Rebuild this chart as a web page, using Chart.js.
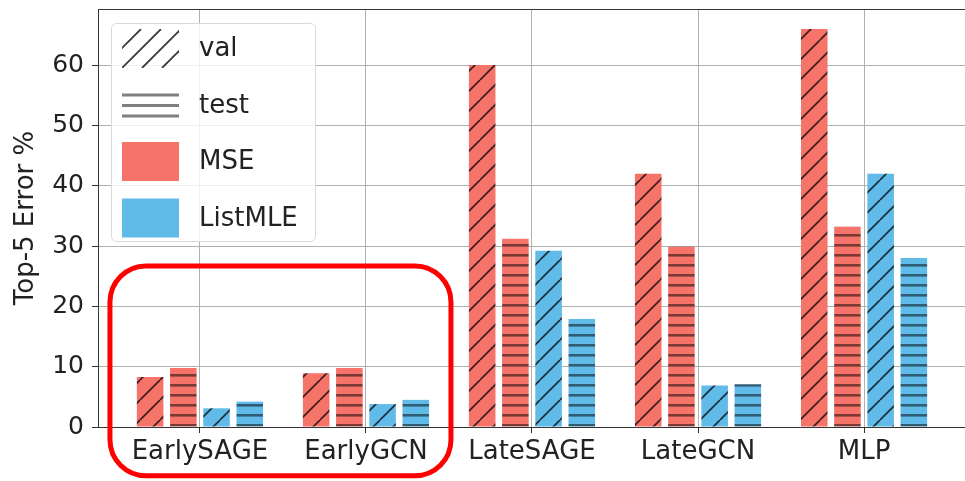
<!DOCTYPE html>
<html>
<head>
<meta charset="utf-8">
<script src="https://cdn.jsdelivr.net/npm/chart.js@4.4.0/dist/chart.umd.min.js"></script>
<style>
  html, body { margin: 0; padding: 0; background: #fff; }
</style>
</head>
<body>
<canvas id="chart" width="965" height="481"></canvas>
<script>
// Top-5 error per model, val / test, MSE vs ListMLE
const categories = ['EarlySAGE', 'EarlyGCN', 'LateSAGE', 'LateGCN', 'MLP'];
const mseVal = [8.3, 8.9, 60.0, 42.0, 66.0];
const mseTest = [9.8, 9.8, 31.2, 29.9, 33.2];
const listmleVal = [3.1, 3.8, 29.2, 6.9, 42.0];
const listmleTest = [4.2, 4.5, 17.9, 7.1, 28.0];
const yTicks = [0, 10, 20, 30, 40, 50, 60];

const RED = '#f6736a';
const BLUE = '#60bbe9';
const FONT = 'DejaVu Sans';

// hatch patterns (matplotlib style '/' and '-')
function diagPattern(bg) {
  const s = 20;
  const c = document.createElement('canvas');
  c.width = s; c.height = s;
  const g = c.getContext('2d');
  g.fillStyle = bg;
  g.fillRect(0, 0, s, s);
  g.strokeStyle = 'rgba(0,0,0,0.75)';
  g.lineWidth = 1.7;
  for (let k = -1; k <= 1; k++) {
    g.beginPath();
    g.moveTo(k * s, s);
    g.lineTo(k * s + s, 0);
    g.stroke();
  }
  return g.createPattern(c, 'repeat');
}

function horizPattern(bg) {
  const s = 10;
  const c = document.createElement('canvas');
  c.width = s; c.height = s;
  const g = c.getContext('2d');
  g.fillStyle = bg;
  g.fillRect(0, 0, s, s);
  g.fillStyle = 'rgba(0,0,0,0.5)';
  g.fillRect(0, 4, s, 2.6);
  return g.createPattern(c, 'repeat');
}

const toXY = arr => arr.map((v, i) => ({ x: i, y: v }));

const legendItems = [
  { label: 'val', kind: 'diag' },
  { label: 'test', kind: 'horiz' },
  { label: 'MSE', kind: 'fill', color: RED },
  { label: 'ListMLE', kind: 'fill', color: BLUE }
];

const extras = {
  id: 'extras',
  afterDraw(chart) {
    const ctx = chart.ctx;
    const ca = chart.chartArea;
    const xs = chart.scales.x, ys = chart.scales.y;
    ctx.save();

    // top spine
    ctx.strokeStyle = '#333';
    ctx.lineWidth = 1;
    ctx.beginPath();
    ctx.moveTo(ca.left, ca.top + 0.5);
    ctx.lineTo(ca.right, ca.top + 0.5);
    ctx.stroke();

    // legend box
    const bx = ca.left + 13, by = ca.top + 14, bw = 204, bh = 218;
    ctx.beginPath();
    ctx.roundRect(bx + 0.5, by + 0.5, bw, bh, 5);
    ctx.fillStyle = 'rgba(255,255,255,0.8)';
    ctx.fill();
    ctx.strokeStyle = '#d8d8d8';
    ctx.stroke();

    ctx.font = '26px "' + FONT + '"';
    ctx.textBaseline = 'middle';
    legendItems.forEach((it, i) => {
      const ix = bx + 11, iy = by + 6 + i * 56.5, iw = 57, ih = 39;
      ctx.save();
      if (it.kind === 'fill') {
        ctx.fillStyle = it.color;
        ctx.fillRect(ix, iy, iw, ih);
      } else if (it.kind === 'diag') {
        ctx.beginPath();
        ctx.rect(ix, iy, iw, ih);
        ctx.clip();
        ctx.strokeStyle = '#3a3a3a';
        ctx.lineWidth = 1.8;
        for (let k = -2; k < 4; k++) {
          ctx.beginPath();
          ctx.moveTo(ix + k * 20, iy + ih);
          ctx.lineTo(ix + k * 20 + ih, iy);
          ctx.stroke();
        }
      } else {
        ctx.fillStyle = '#808080';
        for (let k = 0; k < 3; k++) ctx.fillRect(ix, iy + 8 + k * 10.5, iw, 3);
      }
      ctx.restore();
      ctx.fillStyle = '#222';
      ctx.fillText(it.label, bx + 88, iy + ih / 2 + 1);
    });

    // red highlight around the Early* groups
    const l = xs.getPixelForValue(-0.542), r = xs.getPixelForValue(1.512);
    const t = ys.getPixelForValue(26.7), b = ys.getPixelForValue(-8.1);
    ctx.beginPath();
    ctx.roundRect(l, t, r - l, b - t, 36);
    ctx.strokeStyle = '#ff0000';
    ctx.lineWidth = 5;
    ctx.stroke();

    ctx.restore();
  }
};

new Chart(document.getElementById('chart'), {
  type: 'bar',
  data: {
    datasets: [
      { label: 'MSE val', data: toXY(mseVal), backgroundColor: diagPattern(RED) },
      { label: 'MSE test', data: toXY(mseTest), backgroundColor: horizPattern(RED) },
      { label: 'ListMLE val', data: toXY(listmleVal), backgroundColor: diagPattern(BLUE) },
      { label: 'ListMLE test', data: toXY(listmleTest), backgroundColor: horizPattern(BLUE) }
    ]
  },
  options: {
    responsive: false,
    animation: false,
    devicePixelRatio: 1,
    layout: { padding: { top: 9, right: 0, left: 0, bottom: 0 } },
    datasets: { bar: { barPercentage: 0.8, categoryPercentage: 0.8, borderWidth: 0 } },
    plugins: { legend: { display: false }, tooltip: { enabled: false } },
    scales: {
      x: {
        type: 'linear',
        bounds: 'data',
        min: -0.614,
        max: 4.608,
        offset: false,
        afterBuildTicks: s => { s.ticks = categories.map((c, i) => ({ value: i })); },
        afterFit: s => { s.height = 54; s.paddingLeft = 0; s.paddingRight = 0; },
        ticks: {
          callback: v => categories[v],
          font: { family: FONT, size: 26 },
          color: '#222',
          padding: 4,
          maxRotation: 0,
          autoSkip: false
        },
        grid: { offset: false, color: '#b0b0b0', lineWidth: 1, tickColor: '#333', tickLength: 6 },
        border: { color: '#333', width: 1 }
      },
      y: {
        min: 0,
        max: 69.3,
        afterBuildTicks: s => { s.ticks = yTicks.map(v => ({ value: v })); },
        afterFit: s => { s.width = 98; s.paddingTop = 0; s.paddingBottom = 0; },
        ticks: {
          font: { family: FONT, size: 25 },
          color: '#222',
          padding: 8
        },
        grid: { color: '#b0b0b0', lineWidth: 1, tickColor: '#333', tickLength: 6 },
        border: { color: '#333', width: 1 },
        title: {
          display: true,
          text: 'Top-5 Error %',
          font: { family: FONT, size: 26 },
          color: '#222',
          padding: { top: 11, bottom: 0 }
        }
      }
    }
  },
  plugins: [extras]
});
</script>
</body>
</html>
